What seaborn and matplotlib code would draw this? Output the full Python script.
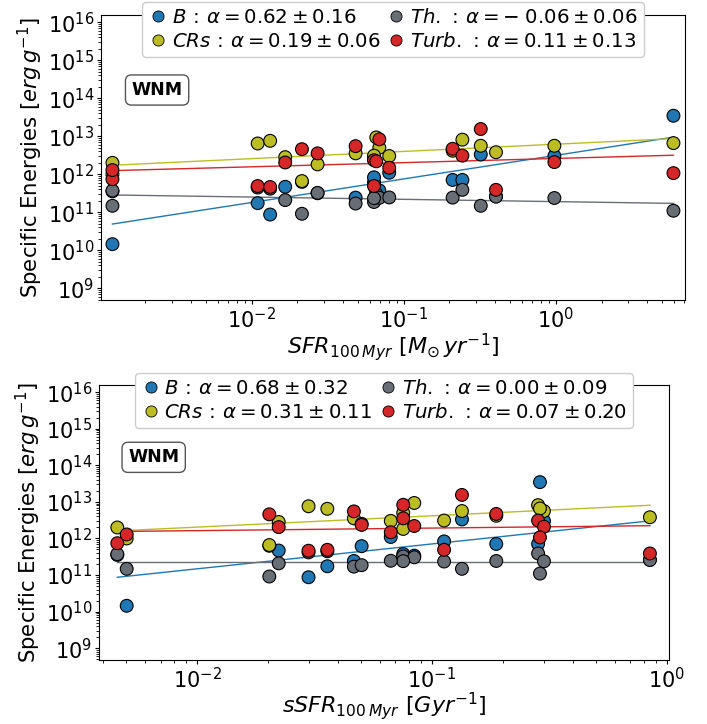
import numpy as np
import pandas as pd
import matplotlib
matplotlib.use("Agg")
import matplotlib.pyplot as plt
from matplotlib.lines import Line2D
from matplotlib.ticker import LogLocator, NullFormatter
import seaborn as sns

# ---- per-galaxy data (log10 values) ----
log_sfr = [-2.915, -2.915, -1.96, -1.878, -1.779, -1.669, -1.566, -1.316, -1.195, -1.18,
           -1.16, -1.195, -1.095, -0.678, -0.614, -0.493, -0.393, -0.009, 0.774]
log_ssfr = [-2.339, -2.299, -1.445, -1.525, -1.652, -1.692, -1.122, -1.332, -1.299, -1.075,
            -1.122, -0.948, -1.175, -0.726, -0.548, -0.872, -0.072, -0.523, -0.54]
log_e_b = [11.55, 10.16, 11.24, 10.94, 11.67, 11.80, 11.50, 11.385, 11.79, 11.53,
           11.575, 11.92, 12.04, 11.85, 11.85, 12.52, 11.42, 12.48, 13.54]
log_e_crs = [12.30, 12.00, 12.81, 12.88, 12.45, 11.82, 12.26, 12.55, 12.40, 12.97,
             12.70, 12.49, 12.48, 12.62, 12.91, 12.75, 12.58, 12.75, 12.82]
log_e_th = [11.57, 11.17, 11.65, 11.62, 11.32, 10.96, 11.51, 11.23, 11.27, 11.485,
            11.38, 11.37, 11.39, 11.385, 11.59, 11.17, 11.41, 11.375, 11.04]
log_e_turb = [11.87, 12.11, 11.69, 11.665, 12.31, 12.66, 12.55, 12.74, 12.37, 12.34,
              12.92, 11.69, 12.17, 12.67, 12.49, 13.19, 11.59, 12.32, 12.03]

components = ["B", "CRs", "Th.", "Turb."]
colors = ["#1f77b4", "#bcbd22", "#686e76", "#d62728"]

# power-law fits: log E = slope * log x + norm
slope_sfr = [0.62, 0.19, -0.06, 0.11]
err_sfr = [0.16, 0.06, 0.06, 0.13]
norm_sfr = [12.497, 12.791, 11.28, 12.416]
slope_ssfr = [0.68, 0.31, 0.00, 0.07]
err_ssfr = [0.32, 0.11, 0.09, 0.20]
norm_ssfr = [12.53, 12.93, 11.37, 12.354]

# decades labelled on the energy axis
energy_decades = [9, 10, 11, 12, 13, 14, 15, 16]

energies = [log_e_b, log_e_crs, log_e_th, log_e_turb]


def make_frame(logx):
    rows = []
    for comp, vals in zip(components, energies):
        for lx, lv in zip(logx, vals):
            rows.append({"x": 10 ** lx, "E": 10 ** lv, "comp": comp})
    return pd.DataFrame(rows)


def fmt_slope(a):
    s = f"{abs(a):.2f}"
    return (r"-\;" + s) if a < 0 else s


def panel(ax, logx, slopes, errs, norms, xlim, xlabel):
    df = make_frame(logx)
    xs = np.array([min(logx), max(logx)])
    for comp, col, a, n in zip(components, colors, slopes, norms):
        line = pd.DataFrame({"x": 10 ** xs, "E": 10 ** (a * xs + n)})
        sns.lineplot(data=line, x="x", y="E", color=col, lw=1.0, ax=ax, zorder=1)
    sns.scatterplot(data=df, x="x", y="E", hue="comp", hue_order=components,
                    palette=colors, s=85, edgecolor="black", linewidth=0.8,
                    ax=ax, legend=False, zorder=3)
    ax.set_xscale("log")
    ax.set_yscale("log")
    ax.set_xlim(10 ** xlim[0], 10 ** xlim[1])
    ax.set_ylim(10 ** 8.69, 10 ** 16.19)
    ax.set_yticks([10.0 ** d for d in energy_decades])
    ax.yaxis.set_minor_locator(LogLocator(base=10, subs=np.arange(2, 10), numticks=40))
    ax.yaxis.set_minor_formatter(NullFormatter())
    ax.tick_params(axis="both", which="major", labelsize=15, length=3, pad=2)
    ax.tick_params(axis="both", which="minor", length=2)
    ax.set_xlabel(xlabel, fontsize=16, labelpad=-1)
    ax.set_ylabel(r"Specific Energies $[erg\,g^{-1}]$", fontsize=15.3, labelpad=2)
    handles, labels = [], []
    for comp, col, a, e in zip(components, colors, slopes, errs):
        handles.append(Line2D([], [], ls="none", marker="o", markersize=8,
                              markerfacecolor=col, markeredgecolor="black",
                              markeredgewidth=0.6))
        labels.append(rf"${comp}\,:\,\alpha = {fmt_slope(a)} \pm {e:.2f}$")
    leg = ax.legend(handles, labels, ncol=2, loc="upper center",
                    bbox_to_anchor=(0.5, 1.08), fontsize=14.2, handletextpad=0.2,
                    columnspacing=0.3, borderpad=0.3, labelspacing=0.25,
                    handlelength=1.0, framealpha=1.0)
    leg.set_zorder(10)
    ax.text(0.096, 0.737, "WNM", transform=ax.transAxes, ha="center", va="center",
            fontsize=12.5, fontweight="bold",
            bbox=dict(boxstyle="round,pad=0.35", fc="white", ec="#555555"))


fig = plt.figure(figsize=(7.07, 7.24), dpi=100)
ax1 = fig.add_axes([0.1429, 0.5856, 0.826, 0.3936])
ax2 = fig.add_axes([0.140, 0.089, 0.806, 0.379])

panel(ax1, log_sfr, slope_sfr, err_sfr, norm_sfr, (-2.99, 0.85),
      r"$SFR_{100\,Myr}\ [M_{\odot}\,yr^{-1}]$")
panel(ax2, log_ssfr, slope_ssfr, err_ssfr, norm_ssfr, (-2.417, 0.0085),
      r"$sSFR_{100\,Myr}\ [Gyr^{-1}]$")

fig.savefig("out.png", dpi=100)
